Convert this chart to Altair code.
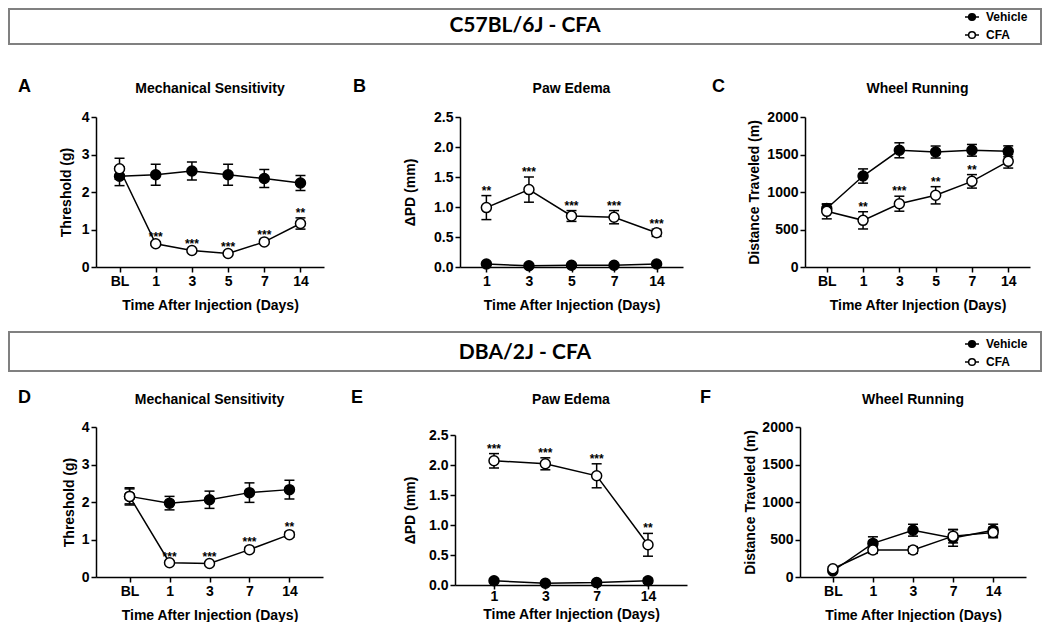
import altair as alt
import pandas as pd

FONT = "Liberation Sans, Arial, sans-serif"
HFONT = "Lato, Liberation Sans, sans-serif"
GROUPS = ["Vehicle", "CFA"]
XTITLE = "Time After Injection (Days)"

# ---------- data ----------
A_days = ["BL", "1", "3", "5", "7", "14"]
A_vehicle = [2.42, 2.46, 2.56, 2.46, 2.36, 2.24]
A_vehicle_sem = [0.25, 0.28, 0.24, 0.28, 0.24, 0.20]
A_cfa = [2.62, 0.62, 0.44, 0.36, 0.67, 1.16]
A_cfa_sem = [0.28, 0.04, 0.04, 0.04, 0.06, 0.15]
A_sig = ["", "***", "***", "***", "***", "**"]

B_days = ["1", "3", "5", "7", "14"]
B_vehicle = [0.05, 0.02, 0.03, 0.03, 0.05]
B_vehicle_sem = [0.01, 0.01, 0.01, 0.01, 0.01]
B_cfa = [0.99, 1.29, 0.85, 0.83, 0.57]
B_cfa_sem = [0.20, 0.21, 0.09, 0.11, 0.06]
B_sig = ["**", "***", "***", "***", "***"]

C_days = ["BL", "1", "3", "5", "7", "14"]
C_vehicle = [780, 1213, 1556, 1533, 1556, 1542]
C_vehicle_sem = [55, 95, 100, 80, 78, 73]
C_cfa = [742, 622, 844, 956, 1142, 1409]
C_cfa_sem = [100, 115, 100, 115, 90, 90]
C_sig = ["", "**", "***", "**", "**", ""]

D_days = ["BL", "1", "3", "7", "14"]
D_vehicle = [2.15, 1.97, 2.06, 2.25, 2.33]
D_vehicle_sem = [0.23, 0.18, 0.23, 0.26, 0.25]
D_cfa = [2.15, 0.38, 0.36, 0.73, 1.13]
D_cfa_sem = [0.20, 0.03, 0.03, 0.06, 0.07]
D_sig = ["", "***", "***", "***", "**"]

E_days = ["1", "3", "7", "14"]
E_vehicle = [0.07, 0.03, 0.04, 0.07]
E_vehicle_sem = [0.01, 0.01, 0.01, 0.04]
E_cfa = [2.07, 2.02, 1.82, 0.67]
E_cfa_sem = [0.12, 0.10, 0.20, 0.19]
E_sig = ["***", "***", "***", "**"]

F_days = ["BL", "1", "3", "7", "14"]
F_vehicle = [80, 448, 624, 520, 624]
F_vehicle_sem = [20, 88, 79, 110, 80]
F_cfa = [110, 360, 360, 545, 593]
F_cfa_sem = [25, 45, 45, 90, 70]
F_sig = ["", "", "", "", ""]

X0 = 88  # left extent in front of the first plot of each row


def frame(days, veh, veh_sem, cfa, cfa_sem, sig):
    rows = []
    for g, m, s, st in (("Vehicle", veh, veh_sem, [""] * len(days)),
                        ("CFA", cfa, cfa_sem, sig)):
        for d, mi, si, t in zip(days, m, s, st):
            rows.append(dict(day=d, group=g, mean=mi, lo=mi - si, hi=mi + si, sig=t))
    return pd.DataFrame(rows)


def text_layer(txt, x, y, size, align="center", weight="bold", font=FONT, opacity=1):
    return alt.Chart(pd.DataFrame({"t": [txt]})).mark_text(
        font=font, fontSize=size, fontWeight=weight, align=align,
        baseline="middle", color="black", opacity=opacity
    ).encode(x=alt.value(x), y=alt.value(y), text="t:N")


def panel(letter, title, ytitle, days, df, ymax, yvals, yfmt, w, h, pad,
          letter_x, letter_y, title_y, spacer_x, ytp,
          x_label_pad=2, x_tick=5, x_title_pad=10, top_gap=0):
    xenc = alt.X("day:N", sort=days,
                 scale=alt.Scale(type="point", padding=pad, domain=days),
                 axis=alt.Axis(title=XTITLE, labelAngle=0, tickSize=x_tick,
                               labelPadding=x_label_pad, titlePadding=x_title_pad))
    if top_gap:
        ysc = alt.Scale(domain=[0, ymax], nice=False, zero=True, range=[h, top_gap])
    else:
        ysc = alt.Scale(domain=[0, ymax], nice=False, zero=True)
    yax = alt.Axis(title=ytitle, values=yvals, format=yfmt, titlePadding=ytp)

    def Y(field):
        return alt.Y(f"{field}:Q", scale=ysc, axis=yax)

    base = alt.Chart(df)
    bars = base.mark_rule(color="black", strokeWidth=1.5).encode(
        x=xenc, y=Y("lo"), y2="hi:Q")
    cap_hi = base.mark_tick(color="black", thickness=1.5, size=10, opacity=1,
                            orient="horizontal").encode(x=xenc, y=Y("hi"))
    cap_lo = base.mark_tick(color="black", thickness=1.5, size=10, opacity=1,
                            orient="horizontal").encode(x=xenc, y=Y("lo"))
    line = base.mark_line(color="black", strokeWidth=1.5).encode(
        x=xenc, y=Y("mean"), detail="group:N")
    pts = base.mark_point(shape="circle", size=100, filled=True, stroke="black",
                          strokeWidth=1.5, opacity=1).encode(
        x=xenc, y=Y("mean"),
        fill=alt.Fill("group:N", scale=alt.Scale(domain=GROUPS, range=["black", "white"]),
                      legend=None))
    stars = base.transform_filter("datum.sig != ''").mark_text(
        font=FONT, fontSize=12, fontWeight="bold", baseline="middle", dy=-5,
        color="black").encode(x=xenc, y=Y("hi"), text="sig:N")

    lab = text_layer(letter, letter_x, letter_y, 18, align="left")
    ttl = text_layer(title, w / 2, title_y, 14)
    layers = [bars, cap_hi, cap_lo, line, pts, stars, lab, ttl]
    if spacer_x is not None:
        layers.append(text_layer(".", spacer_x, 0, 10, align="left", opacity=0))
    return alt.layer(*layers).properties(width=w, height=h)


def header(text, H, box_top, box_bottom, text_y, legend_y):
    W = 945
    box = alt.Chart(pd.DataFrame({"a": [0]})).mark_rect(
        fill="white", stroke="#808080", strokeWidth=2).encode(
        x=alt.value(-X0 + 1), x2=alt.value(W), y=alt.value(box_top), y2=alt.value(box_bottom))
    ttl = text_layer(text, 429, text_y, 21, font=HFONT)
    leg = pd.DataFrame({"group": GROUPS})
    yenc = alt.Y("group:N", sort=GROUPS,
                 scale=alt.Scale(type="point", domain=GROUPS, range=legend_y, padding=0),
                 axis=None)
    seg = alt.Chart(leg).mark_rule(color="black", strokeWidth=1.5).encode(
        x=alt.value(869), x2=alt.value(883), y=yenc)
    dot = alt.Chart(leg).mark_point(shape="circle", size=45, filled=True, stroke="black",
                                    strokeWidth=1.5, opacity=1).encode(
        x=alt.value(876), y=yenc,
        fill=alt.Fill("group:N", scale=alt.Scale(domain=GROUPS, range=["black", "white"]),
                      legend=None))
    txt = alt.Chart(leg).mark_text(font=FONT, fontSize=12, fontWeight="bold", align="left",
                                   baseline="middle", color="black").encode(
        x=alt.value(890), y=yenc, text="group:N")
    return alt.layer(box, ttl, seg, dot, txt).properties(width=W, height=H)


dfA = frame(A_days, A_vehicle, A_vehicle_sem, A_cfa, A_cfa_sem, A_sig)
dfB = frame(B_days, B_vehicle, B_vehicle_sem, B_cfa, B_cfa_sem, B_sig)
dfC = frame(C_days, C_vehicle, C_vehicle_sem, C_cfa, C_cfa_sem, C_sig)
dfD = frame(D_days, D_vehicle, D_vehicle_sem, D_cfa, D_cfa_sem, D_sig)
dfE = frame(E_days, E_vehicle, E_vehicle_sem, E_cfa, E_cfa_sem, E_sig)
dfF = frame(F_days, F_vehicle, F_vehicle_sem, F_cfa, F_cfa_sem, F_sig)

ticks4 = [0, 1, 2, 3, 4]
ticks25 = [0, 0.5, 1.0, 1.5, 2.0, 2.5]
ticks2000 = [0, 500, 1000, 1500, 2000]

pA = panel("A", "Mechanical  Sensitivity", "Threshold (g)", A_days, dfA, 4, ticks4, "d",
           228, 150, 0.65, -78, -30, -28, -X0, 8)
pB = panel("B", "Paw Edema", "ΔPD (mm)", B_days, dfB, 2.5, ticks25, ".1f",
           223, 150, 0.62, -107, -30, -28, None, 16)
pC = panel("C", "Wheel Running", "Distance Traveled (m)", C_days, dfC, 2000, ticks2000, "d",
           225, 150, 0.6, -93, -30, -28, None, 5)
pD = panel("D", "Mechanical Sensitivity", "Threshold (g)", D_days, dfD, 4, ticks4, "d",
           227, 150, 0.84, -78, -29, -27, -X0, 5)
pE = panel("E", "Paw Edema", "ΔPD (mm)", E_days, dfE, 2.5, ticks25, ".1f",
           232, 158, 0.76, -104, -29, -27, -119, 11, x_label_pad=0, x_tick=4,
           x_title_pad=4, top_gap=8)
pF = panel("F", "Wheel  Running", "Distance Traveled (m)", F_days, dfF, 2000, ticks2000, "d",
           226, 150, 0.82, -100, -29, -27, None, 4)

h1 = header("C57BL/6J - CFA", 70, 1, 36, 18, [9, 27])
h2 = header("DBA/2J - CFA", 77, 20, 59, 41, [32, 50])

row1 = alt.hconcat(pA, pB, pC, spacing=29)
row2 = alt.hconcat(pD, pE, pF, spacing=13)

chart = alt.vconcat(h1, row1, h2, row2, spacing=0).properties(padding=0).configure_view(
    stroke=None
).configure_axis(
    labelFont=FONT, labelFontSize=14, labelFontWeight="bold", labelColor="black",
    titleFont=FONT, titleFontSize=14, titleFontWeight="bold", titleColor="black",
    domainColor="black", domainWidth=1.5, tickColor="black", tickWidth=1.5,
    tickSize=5, grid=False, labelPadding=2
)

chart.save("out.html", embed_options={"renderer": "svg", "actions": False})
